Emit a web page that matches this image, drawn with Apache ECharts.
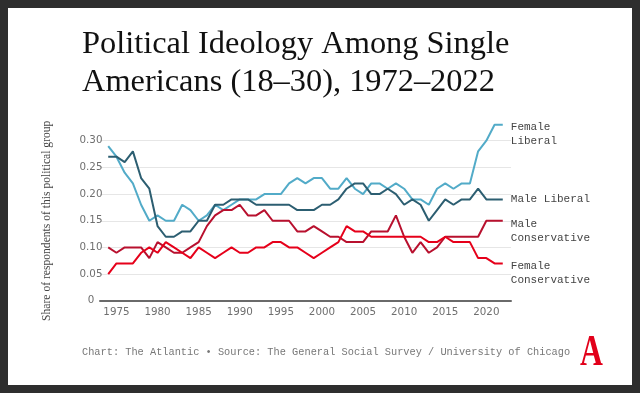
<!DOCTYPE html>
<html><head><meta charset="utf-8">
<script src="https://cdn.jsdelivr.net/npm/echarts@6/dist/echarts.min.js"></script>
<style>
html,body{margin:0;padding:0;background:#2e2e2e;width:640px;height:393px;overflow:hidden}
#frame{position:absolute;left:8px;top:8px;width:624px;height:377px;background:#fff}
#chart{width:624px;height:377px}
</style></head><body>
<div id="frame"><div id="chart"></div></div>
<script>
const years = [1974,1975,1976,1977,1978,1979,1980,1981,1982,1983,1984,1985,1986,1987,1988,1989,1990,1991,1992,1993,1994,1995,1996,1997,1998,1999,2000,2001,2002,2003,2004,2005,2006,2007,2008,2009,2010,2011,2012,2013,2014,2015,2016,2017,2018,2019,2020,2021,2022];
const femaleLiberal = [0.29,0.27,0.24,0.22,0.18,0.15,0.16,0.15,0.15,0.18,0.17,0.15,0.16,0.18,0.17,0.18,0.19,0.19,0.19,0.20,0.20,0.20,0.22,0.23,0.22,0.23,0.23,0.21,0.21,0.23,0.21,0.20,0.22,0.22,0.21,0.22,0.21,0.19,0.19,0.18,0.21,0.22,0.21,0.22,0.22,0.28,0.30,0.33,0.33];
const maleLiberal = [0.27,0.27,0.26,0.28,0.23,0.21,0.14,0.12,0.12,0.13,0.13,0.15,0.15,0.18,0.18,0.19,0.19,0.19,0.18,0.18,0.18,0.18,0.18,0.17,0.17,0.17,0.18,0.18,0.19,0.21,0.22,0.22,0.20,0.20,0.21,0.20,0.18,0.19,0.18,0.15,0.17,0.19,0.18,0.19,0.19,0.21,0.19,0.19,0.19];
const maleConservative = [0.10,0.09,0.10,0.10,0.10,0.08,0.11,0.10,0.09,0.09,0.10,0.11,0.14,0.16,0.17,0.17,0.18,0.16,0.16,0.17,0.15,0.15,0.15,0.13,0.13,0.14,0.13,0.12,0.12,0.11,0.11,0.11,0.13,0.13,0.13,0.16,0.12,0.09,0.11,0.09,0.10,0.12,0.12,0.12,0.12,0.12,0.15,0.15,0.15];
const femaleConservative = [0.05,0.07,0.07,0.07,0.09,0.10,0.09,0.11,0.10,0.09,0.08,0.10,0.09,0.08,0.09,0.10,0.09,0.09,0.10,0.10,0.11,0.11,0.10,0.10,0.09,0.08,0.09,0.10,0.11,0.14,0.13,0.13,0.12,0.12,0.12,0.12,0.12,0.12,0.12,0.11,0.11,0.12,0.11,0.11,0.11,0.08,0.08,0.07,0.07];
const xTickLabels = [1975,1980,1985,1990,1995,2000,2005,2010,2015,2020];
const yTicks = [0,0.05,0.10,0.15,0.20,0.25,0.30];

const seriesDefs = [
  {name:'Female\nLiberal', values: femaleLiberal, color:'#52abc8', dy: 9},
  {name:'Male Liberal', values: maleLiberal, color:'#2c5e71', dy: 0},
  {name:'Male\nConservative', values: maleConservative, color:'#b8102e', dy: 10},
  {name:'Female\nConservative', values: femaleConservative, color:'#e6001a', dy: 10}
];

const chart = echarts.init(document.getElementById('chart'), null, {renderer:'canvas'});
chart.setOption({
  animation: false,
  backgroundColor: '#fff',
  title: [
    {text: 'Political Ideology Among Single\nAmericans (18–30), 1972–2022', left: 74, top: 17, padding: 0,
     textStyle: {fontFamily: 'Liberation Serif', fontSize: 32.4, fontWeight: 'normal', color: '#111', lineHeight: 38}},
    {text: 'Chart: The Atlantic • Source: The General Social Survey / University of Chicago', left: 74, top: 339, padding: 0,
     textStyle: {fontFamily: 'Liberation Mono', fontSize: 10.3, fontWeight: 'normal', color: '#777'}}
  ],
  graphic: [
    {type: 'text', left: 572, top: 324, scaleX: 0.72,
     style: {text: 'A', font: 'bold 44px "Liberation Serif"', fill: '#e2001a'}}
  ],
  grid: {left: 92, right: 121, top: 132.7, bottom: 84.2, containLabel: false},
  xAxis: {
    type: 'value', min: 1973, max: 2023,
    axisLine: {show: true, lineStyle: {color: '#6a6a6a', width: 2}},
    axisTick: {show: false},
    splitLine: {show: false},
    axisLabel: {customValues: xTickLabels, fontFamily: 'DejaVu Sans', fontSize: 10.3, color: '#6f6f6f', margin: 7,
      formatter: v => String(v)}
  },
  yAxis: {
    type: 'value', min: 0, max: 0.30, interval: 0.05,
    axisLine: {show: false}, axisTick: {show: false},
    splitLine: {lineStyle: {color: '#e6e6e6', width: 1}},
    axisLabel: {customValues: yTicks, fontFamily: 'DejaVu Sans', fontSize: 10.3, color: '#6f6f6f', margin: 9, align: 'center',
      formatter: v => v === 0 ? '0' : v.toFixed(2)},
    name: 'Share of respondents of this political group',
    nameLocation: 'middle', nameGap: 47,
    nameTextStyle: {fontFamily: 'Liberation Serif', fontSize: 11.6, color: '#444'}
  },
  series: seriesDefs.map(s => ({
    name: s.name, type: 'line', showSymbol: false, symbol: 'none', clip: false,
    data: years.map((y, i) => [y, s.values[i]]),
    lineStyle: {color: s.color, width: 2},
    itemStyle: {color: s.color},
    endLabel: {show: true, formatter: s.name, fontFamily: 'Liberation Mono', fontSize: 11, lineHeight: 14,
      color: '#444', distance: 8, offset: [0, s.dy], align: 'left'}
  }))
});
</script>
</body></html>
